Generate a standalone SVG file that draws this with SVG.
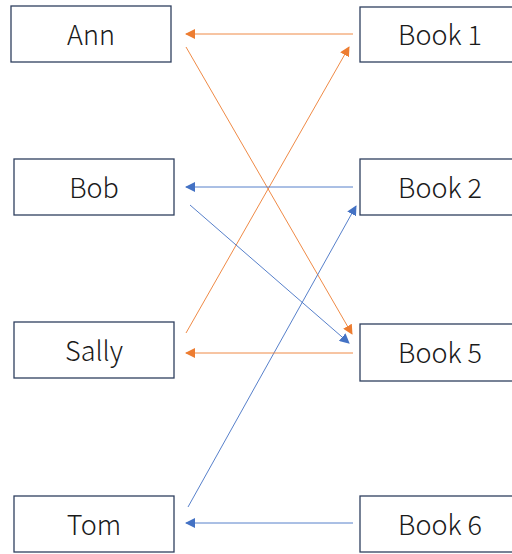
<svg xmlns="http://www.w3.org/2000/svg" width="512" height="554" viewBox="0 0 512 554">
<style>
.box{fill:#fff;stroke:#2F3F5F;stroke-width:1.3}
.t{font-family:"Noto Sans CJK SC","Noto Sans",sans-serif;font-size:27px;font-weight:300;fill:#1a1a1a;text-anchor:middle;dominant-baseline:central}
.o{stroke:#ED7D31;stroke-width:0.9;fill:none;marker-end:url(#ao)}
.b{stroke:#4472C4;stroke-width:0.9;fill:none;marker-end:url(#ab)}
</style>
<defs>
<marker id="ao" viewBox="0 0 10 10" refX="9" refY="5" markerWidth="10" markerHeight="10" markerUnits="userSpaceOnUse" orient="auto"><path d="M0,0L10,5L0,10Z" fill="#ED7D31"/></marker>
<marker id="ab" viewBox="0 0 10 10" refX="9" refY="5" markerWidth="10" markerHeight="10" markerUnits="userSpaceOnUse" orient="auto"><path d="M0,0L10,5L0,10Z" fill="#4472C4"/></marker>
</defs>
<rect width="512" height="554" fill="#fff"/>
<g id="connectors">
<line class="o" x1="353" y1="34" x2="186" y2="34"/>
<line class="o" x1="186" y1="47" x2="352" y2="334"/>
<line class="o" x1="186" y1="333" x2="349" y2="47"/>
<line class="b" x1="353" y1="187" x2="186" y2="187"/>
<line class="b" x1="190" y1="205" x2="349" y2="343"/>
<line class="b" x1="188" y1="507" x2="356" y2="206"/>
<line class="o" x1="353" y1="353" x2="186" y2="353"/>
<line class="b" x1="353" y1="523" x2="186" y2="523"/>
</g>
<g id="ann"><rect class="box" x="11" y="6" width="160" height="56"/><text class="t" x="91" y="33">Ann</text></g>
<g id="bob"><rect class="box" x="14" y="159" width="160" height="56"/><text class="t" x="94" y="186">Bob</text></g>
<g id="sally"><rect class="box" x="14" y="322" width="160" height="56"/><text class="t" x="94" y="349">Sally</text></g>
<g id="tom"><rect class="box" x="14" y="496" width="160" height="56"/><text class="t" x="94" y="523">Tom</text></g>
<g id="book1"><rect class="box" x="360" y="7" width="160" height="55"/><text class="t" x="440" y="33">Book 1</text></g>
<g id="book2"><rect class="box" x="360" y="159" width="160" height="56"/><text class="t" x="440" y="186">Book 2</text></g>
<g id="book5"><rect class="box" x="360" y="324" width="160" height="57"/><text class="t" x="440" y="351">Book 5</text></g>
<g id="book6"><rect class="box" x="360" y="496" width="160" height="56"/><text class="t" x="440" y="523">Book 6</text></g>
</svg>
